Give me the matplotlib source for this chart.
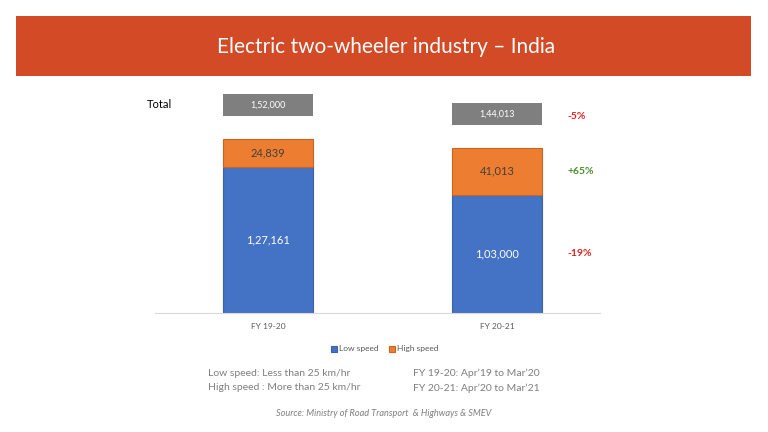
import matplotlib
matplotlib.use("Agg")
import matplotlib.pyplot as plt
from matplotlib.patches import Rectangle

plt.rcParams['font.family'] = ['Lato', 'DejaVu Sans']

categories = ["FY 19-20", "FY 20-21"]
low_speed = [127161, 103000]
high_speed = [24839, 41013]
totals = [152000, 144013]
total_labels = ["1,52,000", "1,44,013"]
low_labels = ["1,27,161", "1,03,000"]
high_labels = ["24,839", "41,013"]
changes = ["-5%", "+65%", "-19%"]

BLUE = "#4472C4"
ORANGE = "#ED7D31"
GRAY = "#7F7F7F"

fig = plt.figure(figsize=(7.68, 4.32), dpi=100)

# Title banner
fig.patches.append(Rectangle((16/768, 1-76/432), 735/768, 60/432,
                             transform=fig.transFigure, facecolor="#D24A26",
                             edgecolor="none", zorder=0))
fig.text(386/768, 1-47/432, "Electric two-wheeler industry – India",
         ha="center", va="center", color="white", fontsize=15,
         fontweight="normal")

ax = fig.add_axes([155/768, 1-313/432, 445/768, 225/432])
x = [0, 1]
w = 0.393
ax.bar(x, low_speed, width=w, color=BLUE, edgecolor="#3A62AA", linewidth=0.8, label="Low speed")
ax.bar(x, high_speed, width=w, bottom=low_speed, color=ORANGE, edgecolor="#C9651F",
       linewidth=0.8, label="High speed")
gap = 19700
box_h = 19500
ax.bar(x, [box_h]*2, width=w, bottom=[t + gap for t in totals], color=GRAY,
       edgecolor="none")

for i in range(2):
    ax.text(x[i], low_speed[i]/2, low_labels[i], ha="center", va="center",
            color="white", fontsize=8)
    ax.text(x[i], low_speed[i] + high_speed[i]/2, high_labels[i], ha="center",
            va="center", color="#404040", fontsize=8)
    ax.text(x[i], totals[i] + gap + box_h/2, total_labels[i], ha="center",
            va="center", color="white", fontsize=6.5)

ax.set_xlim(-0.493, 1.449)
ax.set_ylim(0, 196000)
for s in ["top", "right", "left"]:
    ax.spines[s].set_visible(False)
ax.spines["bottom"].set_color("#D9D9D9")
ax.set_yticks([])
ax.set_xticks(x)
ax.set_xticklabels(categories, fontsize=6, color="#595959")
ax.tick_params(axis="x", length=0, pad=7)

# change labels
change_y = [totals[1] + gap + box_h/2 - 2000, low_speed[1] + high_speed[1]/2, low_speed[1]/2]
change_c = ["#E02020", "#4E8A2E", "#E02020"]
for lab, yv, c in zip(changes, change_y, change_c):
    ax.text(1.305, yv, lab, ha="left", va="center", color=c, fontsize=7.5,
            fontweight="bold")

fig.text(147/768, 1-104/432, "Total", ha="left", va="center", fontsize=8,
         color="black")

leg = fig.legend(loc="center", bbox_to_anchor=(385/768, 1-349/432), ncol=2,
                 frameon=False, fontsize=6, handlelength=0.7, handleheight=0.7,
                 columnspacing=1.2, handletextpad=0.3, labelcolor="#595959")

note_c = "#7F7F7F"
fig.text(208/768, 1-373/432, "Low speed: Less than 25 km/hr", fontsize=7.5,
         color=note_c, va="center")
fig.text(208/768, 1-388/432, "High speed : More than 25 km/hr", fontsize=7.5,
         color=note_c, va="center")
fig.text(413/768, 1-373/432, "FY 19-20: Apr\u201919 to Mar\u201920", fontsize=7.5,
         color=note_c, va="center")
fig.text(413/768, 1-388/432, "FY 20-21: Apr\u201920 to Mar\u201921", fontsize=7.5,
         color=note_c, va="center")
fig.text(384/768, 1-414/432, "Source: Ministry of Road Transport  & Highways & SMEV",
         fontsize=6.6, color=note_c, style="italic", ha="center", va="center")

fig.savefig("out.png", dpi=100)
